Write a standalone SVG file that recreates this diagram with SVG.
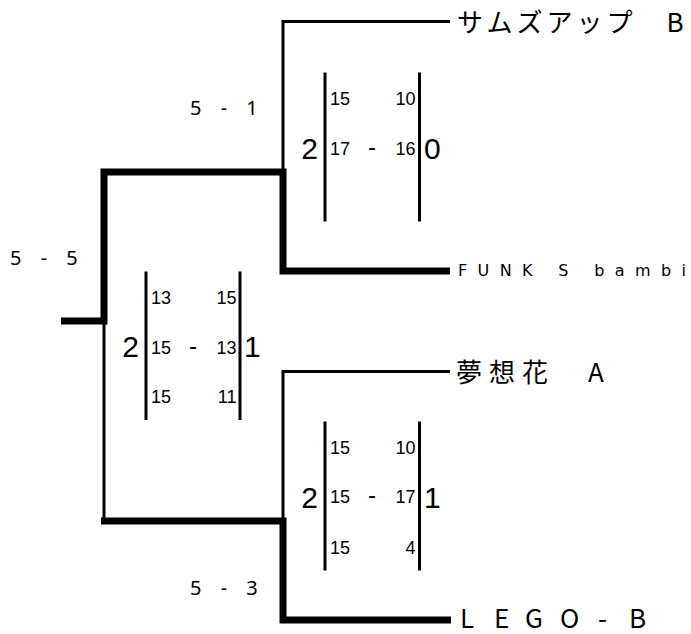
<svg xmlns="http://www.w3.org/2000/svg" width="691" height="634" viewBox="0 0 691 634">
<style>
.thick{fill:none;stroke:#000;stroke-width:7;stroke-linejoin:miter}
.thin{fill:none;stroke:#000;stroke-width:3}
.bar{stroke:#000;stroke-width:3}
.sm{font-family:"Liberation Sans",Arial,sans-serif;font-size:18px;fill:#000}
.dash{font-family:"Liberation Sans",Arial,sans-serif;font-size:24px;fill:#000}
.big{font-family:"Liberation Sans",Arial,sans-serif;font-size:30px;fill:#000}
.score{font-family:"Noto Sans","DejaVu Sans",sans-serif;font-size:20px;letter-spacing:7px;fill:#000}
.name{font-family:"Noto Sans CJK JP",sans-serif;font-size:26px;fill:#000}
.small{font-family:"DejaVu Sans",sans-serif;font-size:16px;fill:#000}
</style>
<rect width="691" height="634" fill="#fff"/>
<g id="connectors">
<path class="thick" d="M61,321 H104 V172 H283 V271 H450"/>
<path class="thin" d="M283,172 V21.5 H450"/>
<path class="thin" d="M104,321 V521"/>
<path class="thick" d="M101,521 H283 V620 H451"/>
<path class="thin" d="M283,521 V371.5 H450"/>
</g>
<g id="team-sumsup"><text class="name" x="457" y="32" letter-spacing="4">サムズアップ　B</text></g>
<g id="team-funk"><text class="small" x="458" y="276" textLength="228" lengthAdjust="spacing">FUNK S bambi</text></g>
<g id="team-musouka"><text class="name" x="456" y="382" letter-spacing="7">夢想花　A</text></g>
<g id="team-lego"><text class="name" x="460 494 525 560 598 629" y="628">LEGO-B</text></g>
<g id="score-final"><text class="score" x="10" y="265">5 - 5</text></g>
<g id="score-semi1"><text class="score" x="190" y="115">5 - 1</text></g>
<g id="score-semi2"><text class="score" x="190" y="595">5 - 3</text></g>
<g id="match-semi1">
<line class="bar" x1="325" y1="72.5" x2="325" y2="221.5"/>
<line class="bar" x1="419.5" y1="72.5" x2="419.5" y2="221.5"/>
<text class="big" x="318" y="158.5" text-anchor="end">2</text>
<text class="big" x="424" y="158.5">0</text>
<text class="sm" x="330" y="104.5">15</text><text class="sm" x="415.5" y="104.5" text-anchor="end">10</text>
<text class="sm" x="330" y="154.5">17</text><text class="dash" x="372" y="154.5" text-anchor="middle">-</text><text class="sm" x="415.5" y="154.5" text-anchor="end">16</text>
</g>
<g id="match-final">
<line class="bar" x1="146" y1="271.5" x2="146" y2="420"/>
<line class="bar" x1="240" y1="271.5" x2="240" y2="420"/>
<text class="big" x="139" y="357" text-anchor="end">2</text>
<text class="big" x="244" y="357">1</text>
<text class="sm" x="151" y="304">13</text><text class="sm" x="236.5" y="304" text-anchor="end">15</text>
<text class="sm" x="151" y="354">15</text><text class="dash" x="193" y="354" text-anchor="middle">-</text><text class="sm" x="236.5" y="354" text-anchor="end">13</text>
<text class="sm" x="151" y="403">15</text><text class="sm" x="236.5" y="403" text-anchor="end">11</text>
</g>
<g id="match-semi2">
<line class="bar" x1="325" y1="421.5" x2="325" y2="570.5"/>
<line class="bar" x1="419.5" y1="421.5" x2="419.5" y2="570.5"/>
<text class="big" x="318" y="507.5" text-anchor="end">2</text>
<text class="big" x="424" y="507.5">1</text>
<text class="sm" x="330" y="453.5">15</text><text class="sm" x="415.5" y="453.5" text-anchor="end">10</text>
<text class="sm" x="330" y="503">15</text><text class="dash" x="372" y="503" text-anchor="middle">-</text><text class="sm" x="415.5" y="503" text-anchor="end">17</text>
<text class="sm" x="330" y="554">15</text><text class="sm" x="415.5" y="554" text-anchor="end">4</text>
</g>
</svg>
